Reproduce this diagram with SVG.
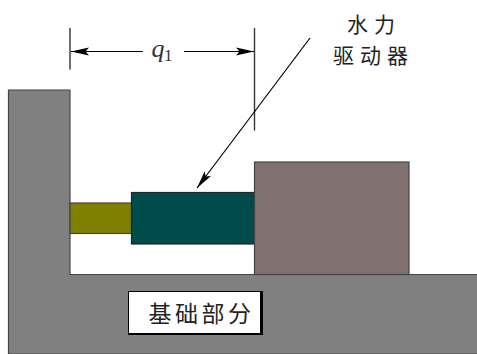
<svg xmlns="http://www.w3.org/2000/svg" width="477" height="354" viewBox="0 0 477 354">
<style>
.cn{font-family:"Noto Sans CJK SC","Noto Sans CJK JP",sans-serif;font-size:23px;fill:#222}
.part{stroke:#444;stroke-width:1.2}
.dim{stroke:#333;stroke-width:1.4;fill:none}
.conn{stroke:#000;stroke-width:1.2;fill:none}
</style>
<defs>
<marker id="a" markerUnits="userSpaceOnUse" markerWidth="20" markerHeight="10" refX="18.500" refY="5" orient="auto-start-reverse"><path d="M0.500 1 L18.500 5 L0.500 9 L4 5 Z" fill="#000"/></marker>
</defs>
<rect width="477" height="354" fill="#fff"/>
<g id="base">
<path class="part" d="M477 354 L8.500 354 L8.500 90 L70 90 L70 274.500 L477 274.500" fill="#808080"/>
</g>
<g id="rod">
<rect x="70" y="203" width="61.500" height="30.500" fill="#808000" class="part"/>
</g>
<g id="actuator">
<rect x="131.500" y="192.500" width="123" height="51.500" fill="#004c4c" stroke="#1a2a2a" stroke-width="1.200"/>
</g>
<g id="load">
<rect x="254.500" y="162" width="154.500" height="112.500" fill="#807070" class="part"/>
</g>
<g id="base-label">
<rect x="128" y="291" width="135" height="44" fill="#000"/>
<rect x="129" y="292" width="131" height="41" fill="#fff"/>
<text class="cn" x="148.500" y="322" letter-spacing="3.500">基础部分</text>
</g>
<g id="actuator-label">
<text class="cn" style="font-size:21px" x="347" y="32" letter-spacing="6">水力</text>
<text class="cn" style="font-size:21px" x="333" y="63" letter-spacing="6">驱动器</text>
</g>
<g id="connectors">
<path class="dim" d="M70 28 V69.500"/>
<path class="dim" d="M254.500 28 V130.500"/>
<path class="conn" d="M143 51.500 H71" marker-end="url(#a)"/>
<path class="conn" d="M184 51.500 H254" marker-end="url(#a)"/>
<path class="conn" d="M310 38 L197 188" marker-end="url(#a)"/>
</g>
<g id="q1-label">
<text x="151.500" y="56.500" font-family="'Liberation Serif',serif" font-style="italic" font-size="26" fill="#333">q<tspan x="164" y="61" font-style="normal" font-size="17">1</tspan></text>
</g>
</svg>
